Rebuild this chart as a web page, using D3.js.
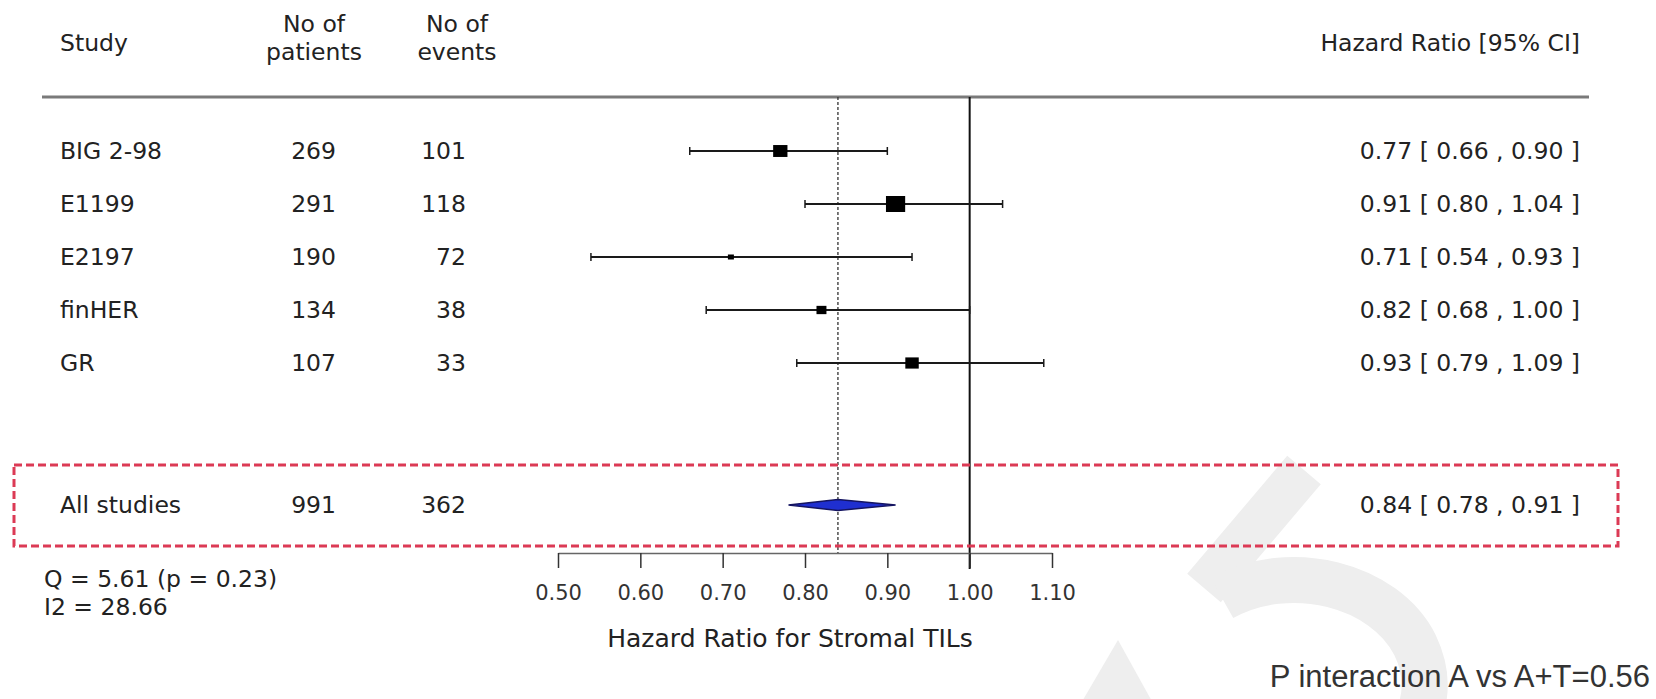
<!DOCTYPE html>
<html>
<head>
<meta charset="utf-8">
<script src="https://cdn.jsdelivr.net/npm/d3@7"></script>
<style>
  html, body { margin: 0; padding: 0; background: #fff; }
  svg { display: block; }
  .tbl { font-family: "DejaVu Sans", sans-serif; font-size: 23.5px; fill: #222; }
  .axis text { font-family: "DejaVu Sans", sans-serif; font-size: 21px; fill: #333; }
</style>
</head>
<body>
<svg id="chart" width="1656" height="699"></svg>
<script>
// Per-study results
const studies   = ["BIG 2-98", "E1199", "E2197", "finHER", "GR"];
const patients  = [269, 291, 190, 134, 107];
const events    = [101, 118, 72, 38, 33];
const hr        = [0.77, 0.91, 0.71, 0.82, 0.93];
const ciLow     = [0.66, 0.80, 0.54, 0.68, 0.79];
const ciHigh    = [0.90, 1.04, 0.93, 1.00, 1.09];

// Pooled (random-effects) estimate
const pooledRow = ["All studies", 991, 362];
const pooledHR  = [0.84, 0.78, 0.91];   // estimate, lower, upper

// Heterogeneity and interaction statistics
const hetLines  = ["Q = 5.61 (p = 0.23)", "I2 = 28.66"];
const interactionNote = "P interaction A vs A+T=0.56";

// Axis
const axisTicks = [0.50, 0.60, 0.70, 0.80, 0.90, 1.00, 1.10];
const headers = { study: "Study", patients: ["No of", "patients"], events: ["No of", "events"], hr: "Hazard Ratio [95% CI]" };
const axisTitle = "Hazard Ratio for Stromal TILs";

const svg = d3.select("#chart");

// Layout
const xLeft = 558, xRight = 1052;
const x = d3.scaleLinear().domain([0.5, 1.1]).range([xLeft, xRight]);
const rowY = d3.scaleLinear().domain([0, 4]).range([151, 363]);
const pooledY = 505;
const colStudy = 60, colPatients = 336, colEvents = 466, colHR = 1580;
const topRule = 97, axisY = 553;

// Faint watermark glyph in the lower right
const wm = svg.append("g").attr("fill", "none").attr("stroke", "#eeeeee");
wm.append("path").attr("d", "M1304,470 L1204,588").attr("stroke-width", 44);
wm.append("path").attr("d", "M1222,598 C1290,560 1385,585 1415,645 C1428,672 1426,695 1420,712").attr("stroke-width", 46);
svg.append("path").attr("d", "M1080,705 L1118,640 L1154,705 Z").attr("fill", "#eeeeee");

// Header
svg.append("text").attr("class", "tbl").attr("x", colStudy).attr("y", 43)
  .attr("dominant-baseline", "central").text(headers.study);
[["patients", 314], ["events", 457]].forEach(([k, cx]) => {
  headers[k].forEach((t, i) => {
    svg.append("text").attr("class", "tbl").attr("x", cx).attr("y", 24 + i * 28)
      .attr("text-anchor", "middle").attr("dominant-baseline", "central").text(t);
  });
});
svg.append("text").attr("class", "tbl").attr("x", colHR).attr("y", 43)
  .attr("text-anchor", "end").attr("dominant-baseline", "central").text(headers.hr);

svg.append("line").attr("x1", 42).attr("x2", 1589).attr("y1", topRule).attr("y2", topRule)
  .attr("stroke", "#7a7a7a").attr("stroke-width", 3);

// Reference lines: no effect (1.00) and pooled estimate
svg.append("line").attr("x1", x(1)).attr("x2", x(1)).attr("y1", topRule).attr("y2", axisY + 16)
  .attr("stroke", "#111").attr("stroke-width", 2);
svg.append("line").attr("x1", x(pooledHR[0])).attr("x2", x(pooledHR[0])).attr("y1", topRule).attr("y2", axisY)
  .attr("stroke", "#333").attr("stroke-width", 1.3).attr("stroke-dasharray", "3,2");

// Study rows
const fmt = d3.format(".2f");
const rows = studies.map((s, i) => ({ s, n: patients[i], e: events[i], hr: hr[i], lo: ciLow[i], hi: ciHigh[i], i }));

// Box size from inverse-variance weights
const se = rows.map(d => (Math.log(d.hi) - Math.log(d.lo)) / (2 * 1.96));
rows.forEach((d, i) => d.w = 1 / (se[i] * se[i]));
const boxSize = d3.scaleLinear().domain(d3.extent(rows, d => d.w)).range([5, 16]);

const g = svg.selectAll("g.row").data(rows).join("g").attr("class", "row")
  .attr("transform", d => `translate(0,${rowY(d.i)})`);

g.append("text").attr("class", "tbl").attr("x", colStudy).attr("dominant-baseline", "central").text(d => d.s);
g.append("text").attr("class", "tbl").attr("x", colPatients).attr("text-anchor", "end").attr("dominant-baseline", "central").text(d => d.n);
g.append("text").attr("class", "tbl").attr("x", colEvents).attr("text-anchor", "end").attr("dominant-baseline", "central").text(d => d.e);
g.append("text").attr("class", "tbl").attr("x", colHR).attr("text-anchor", "end").attr("dominant-baseline", "central")
  .text(d => `${fmt(d.hr)} [ ${fmt(d.lo)} , ${fmt(d.hi)} ]`);

g.append("line").attr("x1", d => x(d.lo)).attr("x2", d => x(d.hi)).attr("y1", 0).attr("y2", 0)
  .attr("stroke", "#1a1a1a").attr("stroke-width", 2);
g.selectAll("line.cap").data(d => [d.lo, d.hi]).join("line").attr("class", "cap")
  .attr("x1", v => x(v)).attr("x2", v => x(v)).attr("y1", -4).attr("y2", 4)
  .attr("stroke", "#1a1a1a").attr("stroke-width", 1.5);
g.append("rect")
  .attr("x", d => x(d.hr) - boxSize(d.w) * 0.6).attr("y", d => -boxSize(d.w) / 2)
  .attr("width", d => boxSize(d.w) * 1.2).attr("height", d => boxSize(d.w))
  .attr("fill", "#000");

// Pooled row
const pg = svg.append("g").attr("transform", `translate(0,${pooledY})`);
pg.append("text").attr("class", "tbl").attr("x", colStudy).attr("dominant-baseline", "central").text(pooledRow[0]);
pg.append("text").attr("class", "tbl").attr("x", colPatients).attr("text-anchor", "end").attr("dominant-baseline", "central").text(pooledRow[1]);
pg.append("text").attr("class", "tbl").attr("x", colEvents).attr("text-anchor", "end").attr("dominant-baseline", "central").text(pooledRow[2]);
pg.append("text").attr("class", "tbl").attr("x", colHR).attr("text-anchor", "end").attr("dominant-baseline", "central")
  .text(`${fmt(pooledHR[0])} [ ${fmt(pooledHR[1])} , ${fmt(pooledHR[2])} ]`);
pg.append("path")
  .attr("d", `M${x(pooledHR[1])},0 L${x(pooledHR[0])},-5.5 L${x(pooledHR[2])},0 L${x(pooledHR[0])},5.5 Z`)
  .attr("fill", "#1f2fd0").attr("stroke", "#141460").attr("stroke-width", 1.5);

// Highlight box around the pooled estimate
svg.append("rect").attr("x", 14).attr("y", 465).attr("width", 1604).attr("height", 81)
  .attr("fill", "none").attr("stroke", "#dc3a55").attr("stroke-width", 3)
  .attr("stroke-dasharray", "8,4");

// X axis
const axis = d3.axisBottom(x).tickValues(axisTicks).tickFormat(fmt).tickSize(15).tickSizeOuter(0).tickPadding(17);
const ax = svg.append("g").attr("class", "axis").attr("transform", `translate(0,${axisY})`).call(axis);
ax.select(".domain").attr("stroke", "#666").attr("stroke-width", 1.5);
ax.selectAll(".tick line").attr("stroke", "#333").attr("stroke-width", 1.5);

svg.append("text").attr("class", "tbl").attr("x", 790).attr("y", 638)
  .attr("text-anchor", "middle").attr("dominant-baseline", "central")
  .style("font-size", "25px").text(axisTitle);

// Heterogeneity
hetLines.forEach((t, i) => {
  svg.append("text").attr("class", "tbl").attr("x", 44).attr("y", 579 + i * 28)
    .attr("dominant-baseline", "central").text(t);
});

// Interaction p-value
svg.append("text").attr("x", 1650).attr("y", 687).attr("text-anchor", "end")
  .attr("font-family", "'Liberation Sans', Arial, sans-serif").attr("font-size", 31).attr("fill", "#333")
  .text(interactionNote);
</script>
</body>
</html>
